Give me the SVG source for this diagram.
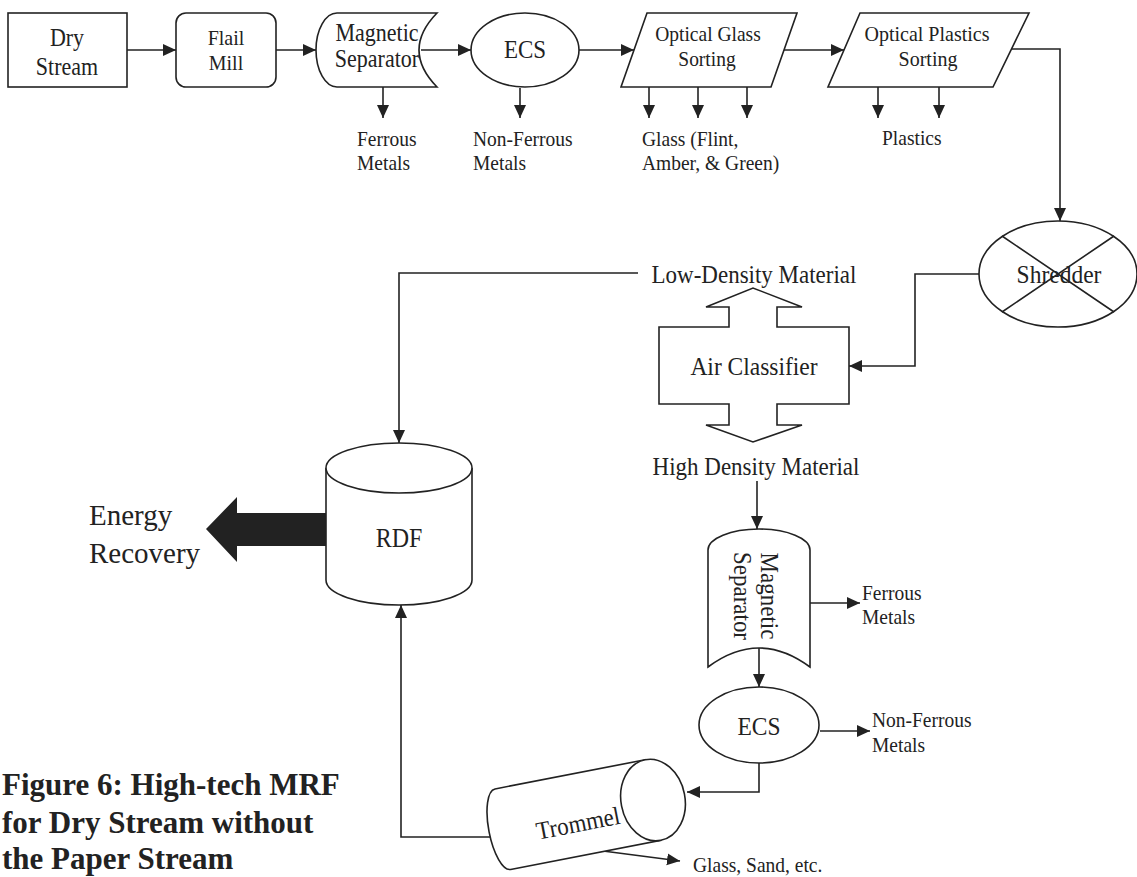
<svg xmlns="http://www.w3.org/2000/svg" width="1137" height="877" viewBox="0 0 1137 877">
<defs>
<marker id="ah" markerUnits="userSpaceOnUse" markerWidth="14" markerHeight="14" refX="13" refY="7" orient="auto">
<path d="M0,1 L13,7 L0,13 z" fill="#222"/>
</marker>
<style>
.s{fill:#fff;stroke:#222;stroke-width:1.6}
.l{fill:none;stroke:#222;stroke-width:1.6}
.c{fill:none;stroke:#222;stroke-width:1.6;marker-end:url(#ah)}
text{font-family:"Liberation Serif","Times New Roman",serif;fill:#222}
.t{transform-box:fill-box;transform-origin:50% 80.5%;transform:scaleY(1.1)}
.m{text-anchor:middle}
.sm{font-size:19.5px}
.cap{font-weight:bold;font-size:31px}
</style>
</defs>
<rect width="1137" height="877" fill="#fff"/>

<g id="connectors">
<path class="c" d="M127,50 H176"/>
<path class="c" d="M276,50 H316"/>
<path class="c" d="M421,50 H471"/>
<path class="c" d="M579,50 H634"/>
<path class="c" d="M784,50 H844"/>
<path class="c" d="M383,87 V118"/>
<path class="c" d="M520,88 V118"/>
<path class="c" d="M649,87 V118"/>
<path class="c" d="M698,87 V118"/>
<path class="c" d="M747,87 V118"/>
<path class="c" d="M878,87 V118"/>
<path class="c" d="M939,87 V118"/>
<path class="c" d="M1011,49 H1060 V221"/>
<path class="c" d="M979,274 H915 V366 H849"/>
<path class="c" d="M638,273 H399 V443"/>
<path class="c" d="M757,481 V529"/>
<path class="c" d="M759,648 V687"/>
<path class="c" d="M810,603 H860"/>
<path class="c" d="M820,731 H870"/>
<path class="c" d="M759,763 V792 H687"/>
<path class="c" d="M490,837 H401 V605"/>
<path class="c" d="M603,851 L680,861"/>
<polygon points="326,513 237,513 237,497 206,529 237,562 237,546 326,546" fill="#222"/>
</g>

<g id="dry-stream">
<rect class="s" x="8" y="13" width="119" height="74"/>
<text class="m t" x="67" y="46" font-size="22">Dry</text>
<text class="m t" x="67" y="75" font-size="22">Stream</text>
</g>

<g id="flail-mill">
<rect class="s" x="176" y="13" width="100" height="74" rx="10"/>
<text class="m t" x="226" y="45" font-size="20">Flail</text>
<text class="m t" x="226" y="70" font-size="20">Mill</text>
</g>

<g id="magnetic-separator-1">
<path class="s" d="M337,13 H437 Q401,50 437,87 H337 A21,37 0 0 1 337,13 Z"/>
<text class="m t" x="377" y="41" font-size="22">Magnetic</text>
<text class="m t" x="377" y="67" font-size="22">Separator</text>
</g>

<g id="ecs-1">
<ellipse class="s" cx="525" cy="50" rx="54" ry="37"/>
<text class="m t" x="525" y="58" font-size="23">ECS</text>
</g>

<g id="optical-glass">
<polygon class="s" points="647,13 797,13 771,87 621,87"/>
<text class="m t" x="708" y="41" font-size="19.5">Optical Glass</text>
<text class="m t" x="707" y="66" font-size="19.5">Sorting</text>
</g>

<g id="optical-plastics">
<polygon class="s" points="860,13 1029,13 993,87 828,87"/>
<text class="m t" x="927" y="41" font-size="20">Optical Plastics</text>
<text class="m t" x="928" y="66" font-size="20">Sorting</text>
</g>

<g id="outputs-top">
<text class="sm t" x="357" y="146">Ferrous</text>
<text class="sm t" x="357" y="170">Metals</text>
<text class="sm t" x="473" y="146">Non-Ferrous</text>
<text class="sm t" x="473" y="170">Metals</text>
<text class="sm t" x="642" y="146">Glass (Flint,</text>
<text class="sm t" x="642" y="170">Amber, &amp; Green)</text>
<text class="sm t" x="882" y="145">Plastics</text>
</g>

<g id="shredder">
<ellipse class="s" cx="1058" cy="274" rx="79" ry="53"/>
<path class="l" d="M1002,236 L1114,312 M1114,236 L1002,312"/>
<text class="m t" x="1059" y="283" font-size="23.5">Shredder</text>
</g>

<g id="air-classifier">
<path class="s" d="M659,327 H729 V307 H706 L753,288 L802,307 H777 V327 H849 V404 H777 V425 H802 L753,442 L706,425 H729 V404 H659 Z"/>
<text class="m t" x="754" y="375" font-size="23.5">Air Classifier</text>
<text class="m t" x="754" y="283" font-size="23">Low-Density Material</text>
<text class="m t" x="756" y="475" font-size="23">High Density Material</text>
</g>

<g id="rdf">
<path class="s" d="M326,468 V580 A73,25 0 0 0 472,580 V468"/>
<ellipse class="s" cx="399" cy="468" rx="73" ry="25"/>
<text class="m t" x="399" y="547" font-size="24">RDF</text>
</g>

<g id="energy-recovery">
<text x="89" y="525" font-size="29">Energy</text>
<text x="89" y="563" font-size="29">Recovery</text>
</g>

<g id="magnetic-separator-2">
<path class="s" d="M708,550 A51,21 0 0 1 810,550 V667 Q759,629 708,667 Z"/>
<g transform="translate(759,596) rotate(90)">
<text class="m t" x="0" y="-2" font-size="23">Magnetic</text>
<text class="m t" x="0" y="25" font-size="23">Separator</text>
</g>
<text class="sm t" x="862" y="600">Ferrous</text>
<text class="sm t" x="862" y="624">Metals</text>
</g>

<g id="ecs-2">
<ellipse class="s" cx="759" cy="725" rx="60" ry="38"/>
<text class="m t" x="759" y="735" font-size="23.5">ECS</text>
<text class="sm t" x="872" y="727">Non-Ferrous</text>
<text class="sm t" x="872" y="752">Metals</text>
</g>

<g id="trommel">
<g transform="translate(653,800) rotate(-11)">
<path class="s" d="M0,-41 H-153 A14,41 0 0 0 -153,41 H0 Z"/>
<ellipse class="s" cx="0" cy="0" rx="32" ry="41"/>
<text class="m t" x="-78" y="17" font-size="23">Trommel</text>
</g>
<text class="sm t" x="693" y="872">Glass, Sand, etc.</text>
</g>

<g id="caption">
<text class="cap" x="2" y="795">Figure 6: High-tech MRF</text>
<text class="cap" x="2" y="833">for Dry Stream without</text>
<text class="cap" x="2" y="869">the Paper Stream</text>
</g>
</svg>
